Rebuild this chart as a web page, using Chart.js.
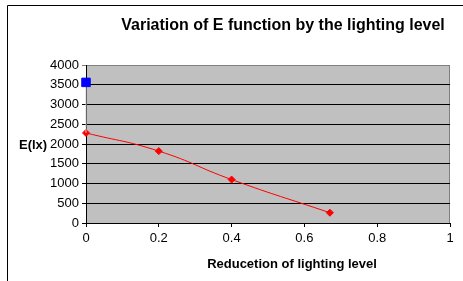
<!DOCTYPE html>
<html>
<head>
<meta charset="utf-8">
<script src="https://cdn.jsdelivr.net/npm/chart.js@4"></script>
<style>
  html, body { margin: 0; padding: 0; background: #fff; }
  #wrap { width: 463px; height: 281px; }
</style>
</head>
<body>
<div id="wrap"><canvas id="lightChart" width="463" height="281"></canvas></div>
<script>
// data
const reduction = [0, 0.2, 0.4, 0.67];
const illuminance = [2280, 1820, 1100, 260];
const refX = [0, 0];
const refY = [3560, 2280];
const xTicks = [0, 0.2, 0.4, 0.6, 0.8, 1];
const yTicks = [0, 500, 1000, 1500, 2000, 2500, 3000, 3500, 4000];

const titleText = 'Variation of E function by the lighting level';
const xTitle = 'Reducetion of lighting level';
const yTitle = 'E(lx)';
const font = '"Liberation Sans", Arial, sans-serif';

const decor = {
    id: 'decor',
    beforeDraw(chart) {
        const ctx = chart.ctx;
        const a = chart.chartArea;
        ctx.save();
        // outer frame (cut at right and bottom)
        ctx.strokeStyle = '#000';
        ctx.lineWidth = 1;
        ctx.beginPath();
        ctx.moveTo(7.5, 281);
        ctx.lineTo(7.5, 5.5);
        ctx.lineTo(463, 5.5);
        ctx.stroke();
        // plot background
        ctx.fillStyle = '#c0c0c0';
        ctx.fillRect(a.left, a.top, a.right - a.left, a.bottom - a.top);
        ctx.strokeStyle = '#808080';
        ctx.beginPath();
        ctx.moveTo(a.right - 0.5, a.top);
        ctx.lineTo(a.right - 0.5, a.bottom);
        ctx.stroke();
        ctx.restore();
    },
    afterDraw(chart) {
        const ctx = chart.ctx;
        const ys = chart.scales.y;
        ctx.save();
        ctx.fillStyle = '#000';
        ctx.textBaseline = 'middle';
        ctx.textAlign = 'center';
        ctx.font = 'bold 16px ' + font;
        ctx.fillText(titleText, 283, 26);
        ctx.font = 'bold 13px ' + font;
        ctx.fillText(xTitle, 292, 264);
        ctx.textAlign = 'left';
        ctx.fillText(yTitle, 19, ys.getPixelForValue(2000) + 1);
        ctx.restore();
    }
};

new Chart(document.getElementById('lightChart'), {
    type: 'scatter',
    data: {
        datasets: [
            {
                label: 'ref',
                data: refX.map((x, i) => ({ x: x, y: refY[i] })),
                showLine: true,
                clip: false,
                borderColor: '#d0d0d0',
                borderWidth: 1,
                tension: 0.6,
                pointStyle: 'rect',
                pointRadius: [6, 0],
                pointBackgroundColor: '#0000ff',
                pointBorderColor: '#0000ff'
            },
            {
                label: 'E',
                data: reduction.map((x, i) => ({ x: x, y: illuminance[i] })),
                showLine: true,
                clip: false,
                borderColor: '#ff0000',
                borderWidth: 1,
                tension: 0.5,
                pointStyle: 'rectRot',
                pointRadius: 3.5,
                pointBackgroundColor: '#ff0000',
                pointBorderColor: '#ff0000'
            }
        ]
    },
    options: {
        responsive: false,
        animation: false,
        layout: { padding: { top: 65, right: 13, left: 0, bottom: 0 } },
        plugins: {
            legend: { display: false },
            tooltip: { enabled: false }
        },
        scales: {
            x: {
                type: 'linear',
                min: 0,
                max: 1,
                afterBuildTicks: s => { s.ticks = xTicks.map(v => ({ value: v })); },
                afterFit: s => { s.height = 58; },
                border: { color: '#000' },
                grid: { drawOnChartArea: false, color: '#000', tickLength: 4 },
                ticks: {
                    color: '#000', font: { family: font, size: 13 }, padding: 4, maxRotation: 0,
                    callback: v => String(v)
                }
            },
            y: {
                min: 0,
                max: 4000,
                afterBuildTicks: s => { s.ticks = yTicks.map(v => ({ value: v })); },
                afterFit: s => { s.width = 86; },
                border: { color: '#000' },
                grid: {
                    color: ctx => ctx.tick && ctx.tick.value === 4000 ? '#808080' : '#000',
                    tickLength: 4
                },
                ticks: {
                    color: '#000', font: { family: font, size: 13 }, padding: 3,
                    callback: v => String(v)
                }
            }
        }
    },
    plugins: [decor]
});
</script>
</body>
</html>
